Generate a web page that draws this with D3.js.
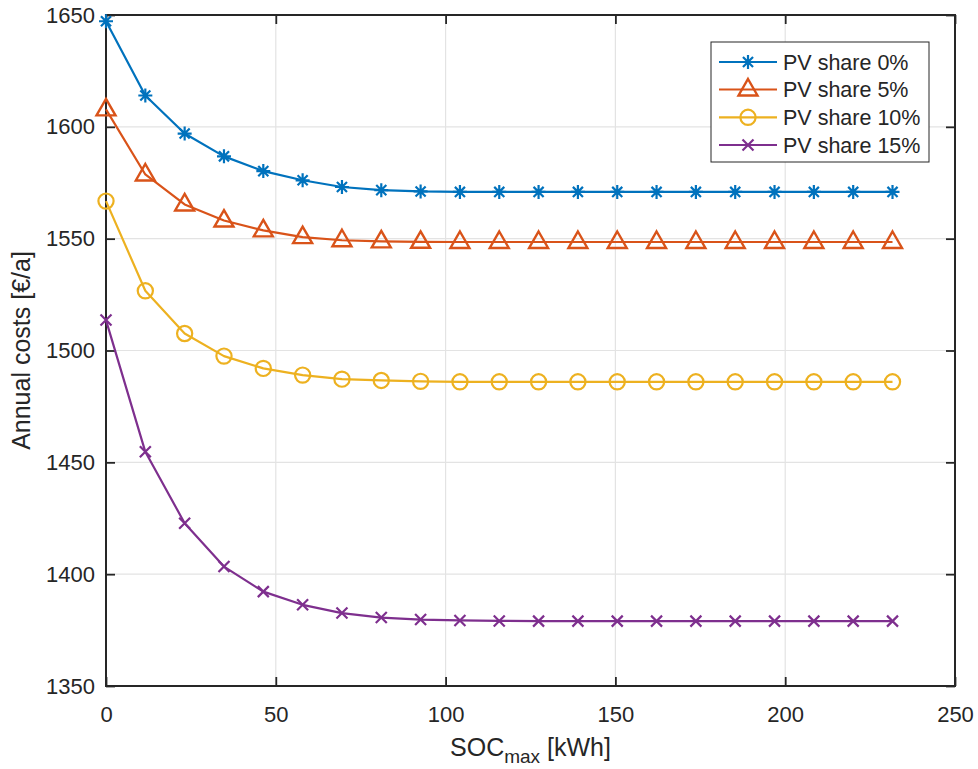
<!DOCTYPE html>
<html>
<head>
<meta charset="utf-8">
<script src="https://cdn.jsdelivr.net/npm/d3@7"></script>
<style>
  html, body { margin: 0; padding: 0; background: #fff; }
  svg { display: block; font-family: "Liberation Sans", Arial, Helvetica, sans-serif; }
</style>
</head>
<body>
<svg id="chart" width="978" height="769"></svg>
<script>
// ---- data ----
const socMax = [0, 11.58, 23.16, 34.74, 46.32, 57.9, 69.48, 81.06, 92.64, 104.22, 115.8,
                127.38, 138.96, 150.54, 162.12, 173.7, 185.28, 196.86, 208.44, 220.02, 231.6];
const pv0  = [1647.2, 1614.0, 1597.0, 1586.8, 1580.2, 1576.1, 1573.1, 1571.7, 1571.1, 1570.9, 1570.9,
              1570.9, 1570.9, 1570.9, 1570.9, 1570.9, 1570.9, 1570.9, 1570.9, 1570.9, 1570.9];
const pv5  = [1607.8, 1578.7, 1565.3, 1558.1, 1553.7, 1550.7, 1549.3, 1548.8, 1548.6, 1548.5, 1548.5,
              1548.5, 1548.5, 1548.5, 1548.5, 1548.5, 1548.5, 1548.5, 1548.5, 1548.5, 1548.5];
const pv10 = [1566.8, 1526.7, 1507.6, 1497.5, 1492.0, 1489.0, 1487.2, 1486.6, 1486.2, 1486.0, 1486.0,
              1486.0, 1486.0, 1486.0, 1486.0, 1486.0, 1486.0, 1486.0, 1486.0, 1486.0, 1486.0];
const pv15 = [1513.6, 1454.7, 1422.8, 1403.4, 1392.2, 1386.3, 1382.6, 1380.6, 1379.7, 1379.3, 1379.1,
              1379.0, 1379.0, 1379.0, 1379.0, 1379.0, 1379.0, 1379.0, 1379.0, 1379.0, 1379.0];
const seriesNames = ["PV share 0%", "PV share 5%", "PV share 10%", "PV share 15%"];
const xTicks = [0, 50, 100, 150, 200, 250];
const yTicks = [1350, 1400, 1450, 1500, 1550, 1600, 1650];

// ---- styles ----
const colors = ["#0072BD", "#D95319", "#EDB120", "#7E2F8E"];
const markerTypes = ["asterisk", "triangle", "circle", "cross"];
const textColor = "#262626";
const tickFont = 22;
const legendFont = 21.5;
const labelFont = 25;

const svg = d3.select("#chart");
const pL = 106, pR = 955, pT = 15, pB = 686;
const x = d3.scaleLinear().domain([0, 250]).range([pL, pR]);
const y = d3.scaleLinear().domain([1350, 1650]).range([pB, pT]);

// grid
const grid = svg.append("g");
grid.selectAll("line.gx").data(xTicks).enter().append("line")
  .attr("x1", d => x(d)).attr("x2", d => x(d)).attr("y1", pT).attr("y2", pB)
  .attr("stroke", "#e3e3e3").attr("stroke-width", 1.2);
grid.selectAll("line.gy").data(yTicks).enter().append("line")
  .attr("x1", pL).attr("x2", pR).attr("y1", d => y(d)).attr("y2", d => y(d))
  .attr("stroke", "#e3e3e3").attr("stroke-width", 1.2);

// axes via d3 axis
function styleAxis(g) {
  g.select(".domain").remove();
  g.selectAll(".tick line").attr("stroke", textColor).attr("stroke-width", 1.8);
  g.selectAll(".tick text").attr("fill", textColor).attr("font-size", tickFont)
    .attr("font-family", '"Liberation Sans", Arial, sans-serif');
}
const xAxisB = svg.append("g").attr("transform", `translate(0,${pB})`)
  .call(d3.axisBottom(x).tickValues(xTicks).tickSizeInner(-9).tickSizeOuter(0).tickPadding(20).tickFormat(d3.format("d")));
styleAxis(xAxisB);
const xAxisT = svg.append("g").attr("transform", `translate(0,${pT})`)
  .call(d3.axisTop(x).tickValues(xTicks).tickSizeInner(-9).tickSizeOuter(0).tickFormat(""));
styleAxis(xAxisT);
const yAxisL = svg.append("g").attr("transform", `translate(${pL},0)`)
  .call(d3.axisLeft(y).tickValues(yTicks).tickSizeInner(-9).tickSizeOuter(0).tickPadding(11).tickFormat(d3.format("d")));
styleAxis(yAxisL);
const yAxisR = svg.append("g").attr("transform", `translate(${pR},0)`)
  .call(d3.axisRight(y).tickValues(yTicks).tickSizeInner(-9).tickSizeOuter(0).tickFormat(""));
styleAxis(yAxisR);

// box
svg.append("rect").attr("x", pL).attr("y", pT).attr("width", pR - pL).attr("height", pB - pT)
  .attr("fill", "none").attr("stroke", textColor).attr("stroke-width", 2);

// markers
function markerPath(type) {
  if (type === "asterisk") {
    const r = 7, d = r * 0.72;
    return `M${-r},0L${r},0M0,${-r}L0,${r}M${-d},${-d}L${d},${d}M${-d},${d}L${d},${-d}`;
  }
  if (type === "triangle") return "M0,-10.5L9.5,6L-9.5,6Z";
  if (type === "cross") { const d = 5.5; return `M${-d},${-d}L${d},${d}M${-d},${d}L${d},${-d}`; }
  return null;
}
function drawMarker(g, type, color) {
  if (type === "circle") {
    g.append("circle").attr("r", 7.6).attr("fill", "none").attr("stroke", color).attr("stroke-width", 2.2);
  } else {
    g.append("path").attr("d", markerPath(type)).attr("fill", "none").attr("stroke", color)
      .attr("stroke-width", type === "triangle" ? 2.4 : 2.2).attr("stroke-linejoin", "miter");
  }
}

const allSeries = [pv0, pv5, pv10, pv15];
const line = d3.line().x((d, i) => x(socMax[i])).y(d => y(d));
allSeries.forEach((vals, s) => {
  const g = svg.append("g");
  g.append("path").datum(vals).attr("d", line).attr("fill", "none")
    .attr("stroke", colors[s]).attr("stroke-width", 2.2).attr("stroke-linejoin", "round");
  vals.forEach((v, i) => {
    const mg = g.append("g").attr("transform", `translate(${x(socMax[i])},${y(v)})`);
    drawMarker(mg, markerTypes[s], colors[s]);
  });
});

// legend
const lg = svg.append("g");
lg.append("rect").attr("x", 711).attr("y", 42).attr("width", 218).attr("height", 120)
  .attr("fill", "#fff").attr("stroke", textColor).attr("stroke-width", 1);
const rowY = [62, 89.5, 117.3, 145];
seriesNames.forEach((name, s) => {
  const ry = rowY[s];
  lg.append("line").attr("x1", 719).attr("x2", 777).attr("y1", ry).attr("y2", ry)
    .attr("stroke", colors[s]).attr("stroke-width", 2.2);
  const mg = lg.append("g").attr("transform", `translate(748,${ry})`);
  drawMarker(mg, markerTypes[s], colors[s]);
  lg.append("text").attr("x", 783).attr("y", ry + 7.5).attr("fill", textColor)
    .attr("font-size", legendFont).text(name);
});

// axis labels
const xl = svg.append("text").attr("x", (pL + pR) / 2).attr("y", 756)
  .attr("text-anchor", "middle").attr("fill", textColor).attr("font-size", labelFont);
xl.append("tspan").text("SOC");
xl.append("tspan").attr("font-size", 19).attr("dy", 7).text("max");
xl.append("tspan").attr("dy", -7).text(" [kWh]");

svg.append("text").attr("transform", `translate(30,${(pT + pB) / 2}) rotate(-90)`)
  .attr("text-anchor", "middle").attr("fill", textColor).attr("font-size", labelFont)
  .text("Annual costs [€/a]");
</script>
</body>
</html>
